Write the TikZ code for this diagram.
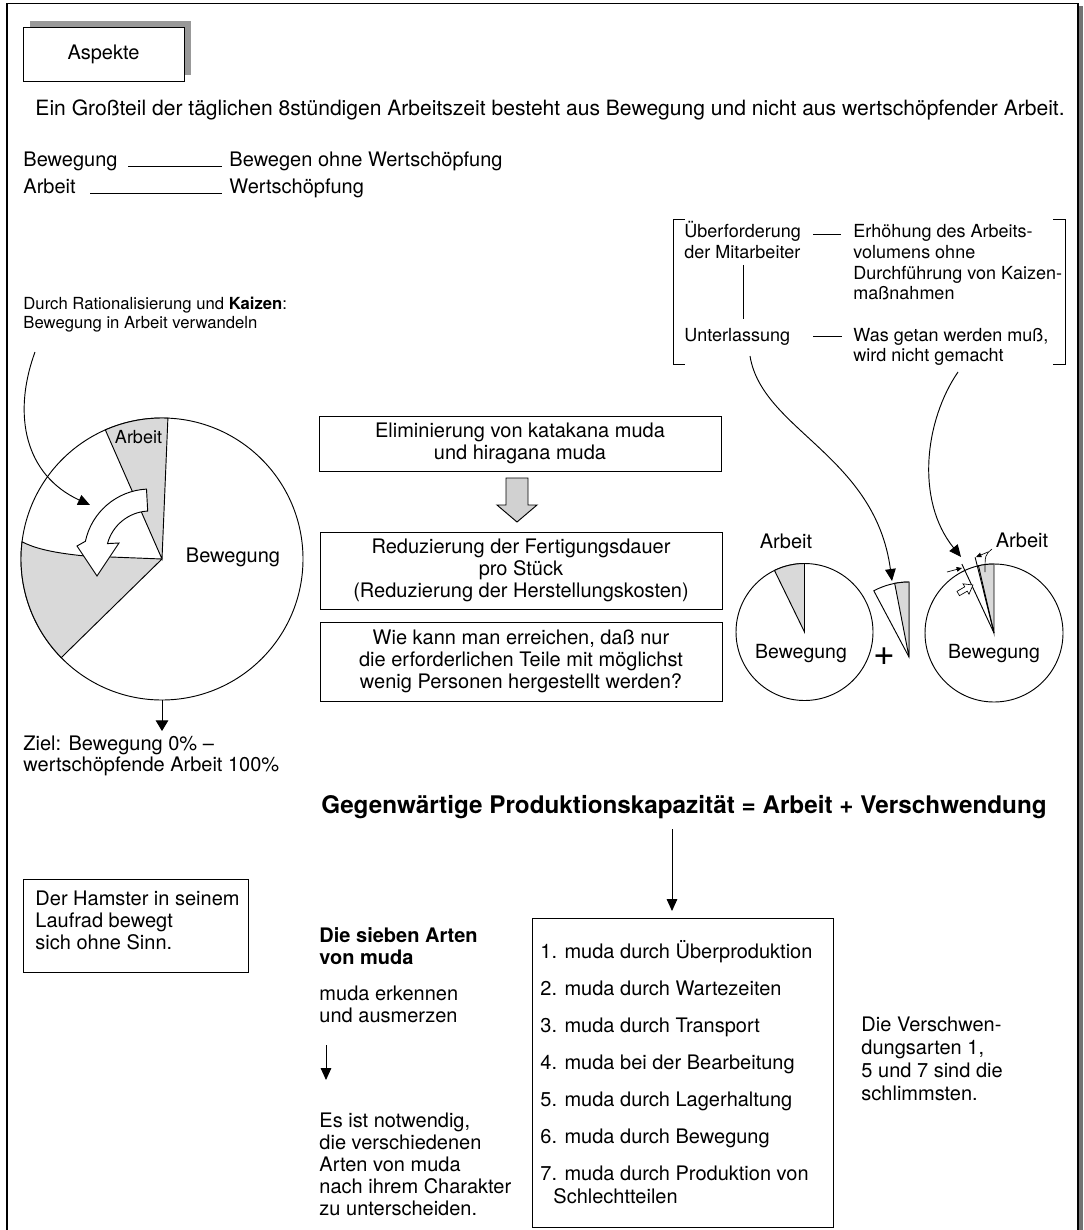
\documentclass[tikz,border=0pt]{standalone}
\usepackage{fontspec}
\setmainfont{TeX Gyre Heros}
\usetikzlibrary{arrows.meta}
\newcommand\fz[2]{\fontsize{#1}{#2}\selectfont}
\newcommand\tl[1]{\begin{tabular}[t]{@{}l@{}}#1\end{tabular}}
\tikzset{
  txt/.style={inner sep=0pt, anchor=base west, font=\fz{15}{16.5}},
  tipa/.style={-{Triangle[length=9pt,width=8pt]}},
  smalltip/.style={-{Triangle[length=4pt,width=3.5pt]}, line width=0.5pt},
  graywedge/.style={fill=black!15, draw=black},
  mbox/.style={draw, minimum width=301.5pt, align=center, inner sep=0pt, font=\fz{15}{16.5}},
}
\begin{document}
\begin{tikzpicture}[x=0.75pt,y=-0.75pt,line width=0.7pt]
\useasboundingbox (0,0) rectangle (1083,1230);
\fill[white] (0,0) rectangle (1083,1230);
% frame
\fill[black!55] (1078,6) rectangle (1082.5,1230);
\draw[line width=1pt] (7,1240) -- (7,3.5) -- (1078,3.5) -- (1078,1240);

% Aspekte
\fill[black!40] (30,21) rectangle (191,75);
\node[draw, fill=white, minimum width=120.75pt, minimum height=40.5pt, inner sep=0pt, font=\fz{15}{18}] (asp) at (103.5,54) {Aspekte};

\node[txt, font=\fz{15.8}{18}] (intro) at (35,116) {Ein Großteil der täglichen 8stündigen Arbeitszeit besteht aus Bewegung und nicht aus wertschöpfender Arbeit.};
\node[txt] (bew) at (23,167) {Bewegung};
\node[txt] (bewd) at (229,167) {Bewegen ohne Wertschöpfung};
\node[txt] (arb) at (23,194) {Arbeit};
\node[txt] (arbd) at (229,194) {Wertschöpfung};
\coordinate (b1) at (128,166); \coordinate (b2) at (222,166);
\coordinate (a1) at (90,193); \coordinate (a2) at (222,193);
\draw (b1) -- (b2);
\draw (a1) -- (a2);

% bracket block
\draw (685,219) -- (673,219) -- (673,364) -- (685,364);
\draw (1053,219) -- (1065,219) -- (1065,364) -- (1053,364);
\node[txt, font=\fz{13.5}{15.4}] (ueb) at (684,238) {\tl{Überforderung\\der Mitarbeiter}};
\node[txt, font=\fz{13.5}{15.4}] (erh) at (853,238) {\tl{Erhöhung des Arbeits-\\volumens ohne\\Durchführung von Kaizen-\\maßnahmen}};
\node[txt, font=\fz{13.5}{15.4}] (unt) at (684,341) {Unterlassung};
\node[txt, font=\fz{13.5}{15.4}] (was) at (853,341) {\tl{Was getan werden muß,\\wird nicht gemacht}};
\coordinate (d1) at (813,234); \coordinate (d2) at (841,234);
\coordinate (d3) at (813,336); \coordinate (d4) at (842,336);
\coordinate (v1) at (743,265); \coordinate (v2) at (743,319);
\draw (d1) -- (d2);
\draw (d3) -- (d4);
\draw (v1) -- (v2);

% left text and arrow
\node[txt, font=\fz{12.5}{14.25}] (durch) at (23,310) {\tl{Durch Rationalisierung und \textbf{Kaizen}:\\Bewegung in Arbeit verwandeln}};
\coordinate (ca1) at (35,352);
\coordinate (ca2) at (90,505);

% left pie
\coordinate (pc) at (162,559);
\draw[fill=white] (pc) circle[radius=141];
\filldraw[graywedge] (pc) -- +(-87.6:141) arc[start angle=-87.6, end angle=-113.7, radius=141] -- cycle;
\filldraw[graywedge] (pc) -- (85,556) .. controls (55,553) and (36,549) .. (22.05,541.8) arc[start angle=-173, end angle=-224.4, radius=141] -- cycle;
\node[inner sep=0pt, font=\fz{13.5}{14}] (pa) at (138.5,437) {Arbeit};
\node[inner sep=0pt, font=\fz{15}{16}] (pb) at (233,557) {Bewegung};
\draw[fill=white] (146.5,489.1) arc[start angle=-93, end angle=-168, radius=66] -- (77,546) -- (97,576) -- (119,543) -- (107.5,543.6) arc[start angle=-165, end angle=-93, radius=44] -- cycle;
\draw[tipa] (ca1) .. controls (12,415) and (25,475) .. (ca2);

\coordinate (pbot) at (162,700);
\coordinate (pbot2) at (162,731);
\draw[-{Triangle[length=8pt,width=9.5pt]}] (pbot) -- (pbot2);
\node[txt, font=\fz{15}{15.75}] (ziel) at (23,750) {\tl{Ziel: Bewegung 0\% –\\wertschöpfende Arbeit 100\%}};

% middle boxes
\node[mbox, minimum height=41.25pt] (m1) at (520,443.5) {Eliminierung von katakana muda\\und hiragana muda};
\node[mbox, minimum height=57.75pt] (m2) at (521,570.5) {Reduzierung der Fertigungsdauer\\pro Stück\\(Reduzierung der Herstellungskosten)};
\node[mbox, minimum height=59.25pt] (m3) at (521,661.5) {Wie kann man erreichen, daß nur\\die erforderlichen Teile mit möglichst\\wenig Personen hergestellt werden?};
\filldraw[fill=black!18] (506,478) -- (528,478) -- (528,505) -- (537,505) -- (517,522) -- (497,505) -- (506,505) -- cycle;

% middle circle
\coordinate (mc) at (804.5,632);
\draw (mc) circle[radius=68.5];
\filldraw[graywedge] (mc) -- +(-90:68.5) arc[start angle=-90, end angle=-116, radius=68.5] -- cycle;
\node[inner sep=0pt, font=\fz{15}{16}] (ma) at (786,541) {Arbeit};
\node[inner sep=0pt, font=\fz{14.6}{16}] (mb) at (801,654) {Bewegung};
\node[inner sep=0pt, font=\fz{28}{28}] (plus) at (884,657) {+};

% wedge piece
\coordinate (wc) at (909,657);
\draw[fill=white] (wc) -- +(-90:75) arc[start angle=-90, end angle=-118, radius=75] -- cycle;
\filldraw[graywedge] (wc) -- +(-90:75) arc[start angle=-90, end angle=-101, radius=75] -- cycle;

% right circle
\coordinate (rc) at (994,633);
\draw (rc) circle[radius=69];
\filldraw[graywedge] (rc) -- +(-90:69) arc[start angle=-90, end angle=-103, radius=69] -- cycle;
\draw (rc) -- +(-104:78);
\draw (rc) -- +(-115:76);
\draw[smalltip] (947,572) -- (962,568);
\draw[smalltip] (988,552) -- (976,557);
\begin{scope}[shift={(966,589)}, rotate=30, line width=0.5pt]
\draw[fill=white] (-9,-2.5) -- (0,-2.5) -- (0,-6) -- (8,0) -- (0,6) -- (0,2.5) -- (-9,2.5) -- cycle;
\end{scope}
\node[inner sep=0pt, font=\fz{15}{16}] (ra) at (1022,540) {Arbeit};
\node[inner sep=0pt, font=\fz{14.6}{16}] (rb) at (994,654) {Bewegung};
\coordinate (ra1) at (992,549);
\coordinate (ra2) at (985,572);
\draw[line width=0.5pt] (ra1) .. controls (985,555) .. (ra2);

% curved arrows from bracket
\coordinate (u1) at (750,356);
\coordinate (u2) at (892,581);
\coordinate (w1) at (958,372);
\coordinate (w2) at (961,557);
\draw[tipa] (u1) .. controls (762,430) and (875,455) .. (u2);
\draw[tipa] (w1) .. controls (925,420) and (915,500) .. (w2);

% heading
\node[inner sep=0pt, anchor=base, font=\bfseries\fz{18.2}{20}] (head) at (684,813) {Gegenwärtige Produktionskapazität = Arbeit + Verschwendung};
\coordinate (h1) at (672,829);
\coordinate (h2) at (672,911);
\draw[tipa] (h1) -- (h2);

% hamster box
\node[draw, anchor=north west, minimum width=168.75pt, minimum height=69.75pt, inner sep=0pt] (ham) at (23,879) {};
\node[txt, font=\fz{15}{16.5}] (hamt) at (35,905) {\tl{Der Hamster in seinem\\Laufrad bewegt\\sich ohne Sinn.}};

% seven muda column
\node[txt, font=\bfseries\fz{15}{16.5}] (sieben) at (319,942) {\tl{Die sieben Arten\\von muda}};
\node[txt] (erk) at (319,1000) {\tl{muda erkennen\\und ausmerzen}};
\coordinate (s1) at (326,1045);
\coordinate (s2) at (326,1080);
\draw[tipa] (s1) -- (s2);
\node[txt] (notw) at (319,1127) {\tl{Es ist notwendig,\\die verschiedenen\\Arten von muda\\nach ihrem Charakter\\zu unterscheiden.}};

% list box
\node[draw, anchor=north west, minimum width=225.75pt, minimum height=231.75pt, inner sep=0pt] (lbox) at (532,918) {};
\node[txt] (l1) at (540,958) {1. muda durch Überproduktion};
\node[txt] (l2) at (540,995) {2. muda durch Wartezeiten};
\node[txt] (l3) at (540,1032) {3. muda durch Transport};
\node[txt] (l4) at (540,1069) {4. muda bei der Bearbeitung};
\node[txt] (l5) at (540,1106) {5. muda durch Lagerhaltung};
\node[txt] (l6) at (540,1143) {6. muda durch Bewegung};
\node[txt] (l7) at (540,1180) {7. muda durch Produktion von};
\node[txt] (l7b) at (553,1203) {Schlechtteilen};

\node[txt, font=\fz{15}{17.25}] (schl) at (861,1031) {\tl{Die Verschwen-\\dungsarten 1,\\5 und 7 sind die\\schlimmsten.}};
\end{tikzpicture}
\end{document}
